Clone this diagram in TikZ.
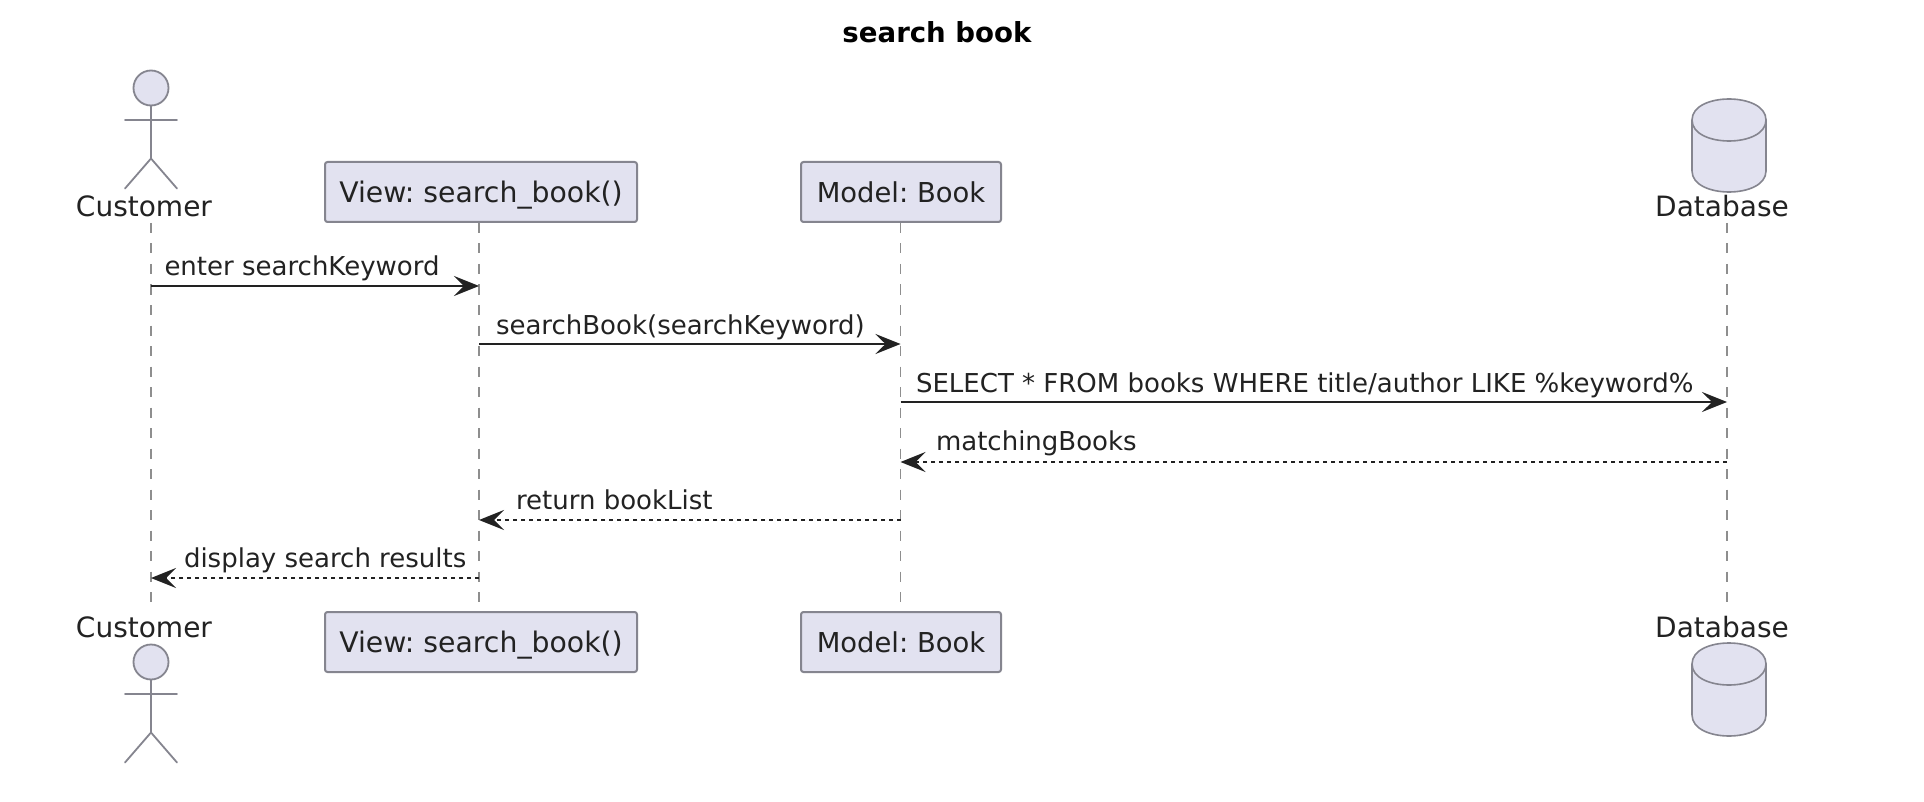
\documentclass[tikz,border=0pt]{standalone}
\usepackage{fontspec}
\setmainfont{DejaVu Sans}
\usetikzlibrary{arrows.meta}
\definecolor{pfill}{HTML}{E2E2F0}
\definecolor{pline}{HTML}{85858F}
\definecolor{ink}{HTML}{222222}
\definecolor{life}{HTML}{8E8E8E}
\tikzset{
  x=1pt,y=-1pt,
  txt/.style={inner sep=0pt,outer sep=0pt,text=ink,anchor=base,font=\fontsize{28}{28}\selectfont},
  msglabel/.style={inner sep=0pt,outer sep=0pt,text=ink,anchor=base west,font=\fontsize{26}{28}\selectfont},
  pbox/.style={draw=pline,fill=pfill,line width=2pt,rounded corners=2.5pt,inner sep=0pt,outer sep=0pt,minimum height=60pt,text=ink,text depth=0pt,font=\fontsize{27.4}{28}\selectfont},
  lifeline/.style={draw=life,line width=1.5pt,dash pattern=on 10pt off 10.5pt},
  actorline/.style={draw=pline,line width=1.8pt,line cap=round},
  tip/.style={-{Stealth[length=25pt,width=20pt,inset=10pt]}},
  sync/.style={draw=ink,fill=none,line width=2.2pt,tip},
  reply/.style={draw=ink,line width=2pt,dash pattern=on 4pt off 4pt,tip},
}
\newcommand{\drawactor}[2]{%
  \draw[actorline,fill=pfill] (#1,#2) circle[radius=17.5pt];
  \draw[actorline] (#1,#2+17.5) -- (#1,#2+70.5)
    (#1-26,#2+32) -- (#1+26,#2+32)
    (#1-26,#2+100.5) -- (#1,#2+70.5) -- (#1+26,#2+100.5);
}
\newcommand{\drawdb}[3]{% x, top, bottom
  \draw[actorline,fill=pfill,line width=1.6pt] (#1-37,#2+21) .. controls (#1-37,#2-7) and (#1+37,#2-7) .. (#1+37,#2+21)
    -- (#1+37,#3-21) .. controls (#1+37,#3+7) and (#1-37,#3+7) .. (#1-37,#3-21) -- cycle;
  \draw[actorline,line width=1.6pt] (#1-37,#2+21) .. controls (#1-37,#2+49) and (#1+37,#2+49) .. (#1+37,#2+21);
}
\begin{document}
\frenchspacing
\begin{tikzpicture}
\useasboundingbox (0,0) rectangle (1924,802);
\fill[white] (0,0) rectangle (1924,802);
\coordinate (cT) at (151,223);
\coordinate (cB) at (151,612);
\coordinate (vT) at (479,223);
\coordinate (vB) at (479,612);
\coordinate (mT) at (900.5,223);
\coordinate (mB) at (900.5,612);
\coordinate (dT) at (1727,223);
\coordinate (dB) at (1727,612);
\draw[lifeline] (cT) -- (cB);
\draw[lifeline] (vT) -- (vB);
\draw[lifeline] (mT) -- (mB);
\draw[lifeline] (dT) -- (dB);
\node[txt,font=\fontsize{27.6}{28}\bfseries,text=black] (title) at (937,43) {search book};
\drawactor{151}{88}
\drawactor{151}{662}
\drawdb{1729}{99}{192}
\drawdb{1729}{643}{736}
\node[txt] (cust1) at (144,217) {Customer};
\node[txt] (cust2) at (144,637) {Customer};
\node[txt] (db1) at (1722,217) {Database};
\node[txt] (db2) at (1722,637) {Database};
\node[pbox,minimum width=312pt,font=\fontsize{28.3}{28}\selectfont] (view1) at (481,192) {\rule{0pt}{14pt}View: search\_book()};
\node[pbox,minimum width=312pt,font=\fontsize{28.3}{28}\selectfont] (view2) at (481,642) {\rule{0pt}{14pt}View: search\_book()};
\node[pbox,minimum width=200pt] (model1) at (901,192) {\rule{0pt}{14pt}Model: Book};
\node[pbox,minimum width=200pt] (model2) at (901,642) {\rule{0pt}{14pt}Model: Book};
\coordinate (c1) at (151,286); \coordinate (v1) at (479,286);
\coordinate (v2) at (479,344); \coordinate (m2) at (900.5,344);
\coordinate (m3) at (900.5,402); \coordinate (d3) at (1727,402);
\coordinate (d4) at (1727,462); \coordinate (m4) at (900.5,462);
\coordinate (m5) at (900.5,520); \coordinate (v5) at (479,520);
\coordinate (v6) at (479,578); \coordinate (c6) at (151,578);
\draw[sync] (c1) -- (v1);
\draw[sync] (v2) -- (m2);
\draw[sync] (m3) -- (d3);
\draw[reply] (d4) -- (m4);
\draw[reply] (m5) -- (v5);
\draw[reply] (v6) -- (c6);
\node[msglabel] (l1) at (164.5,276) {enter searchKeyword};
\node[msglabel] (l2) at (496,334) {searchBook(searchKeyword)};
\node[msglabel] (l3) at (916,392) {SELECT * FROM books WHERE title/author LIKE \%keyword\%};
\node[msglabel] (l4) at (936,450) {matchingBooks};
\node[msglabel] (l5) at (516,509) {return bookList};
\node[msglabel] (l6) at (184,567) {display search results};
\end{tikzpicture}
\end{document}
